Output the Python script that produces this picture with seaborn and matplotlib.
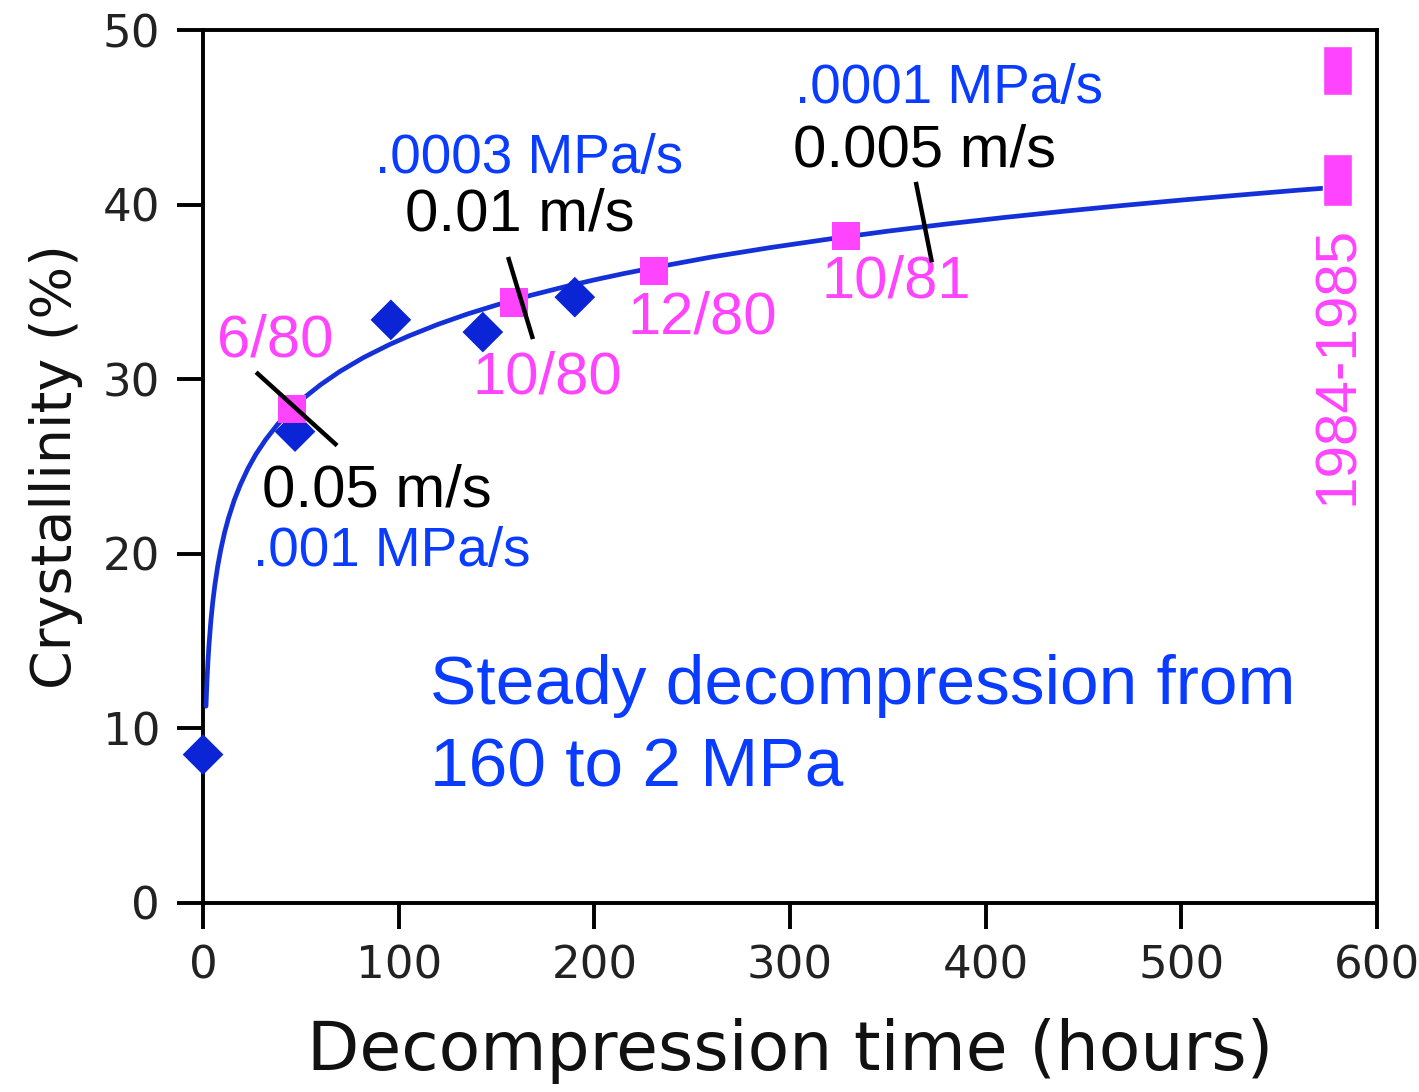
import matplotlib
matplotlib.use("Agg")
import matplotlib.pyplot as plt
import seaborn as sns

# Measured crystallinity, steady decompression runs (diamonds)
run_hours = [0, 47, 96, 143, 190]
run_cryst = [8.5, 27.0, 33.4, 32.7, 34.7]

# Field samples, dated (squares)
sample_hours = [45.5, 159, 230.5, 328.5]
sample_cryst = [28.3, 34.4, 36.2, 38.2]

# 1984-1985 samples shown as value ranges
range_hours = [580, 580]
range_low = [39.9, 46.3]
range_high = [42.9, 49.1]

# Trend curve through the runs
curve_hours = [1.5, 2, 2.5, 3, 4, 5, 6, 7.5, 9, 11, 13, 16, 19, 23, 27, 32,
               38, 45, 52, 60, 70, 82, 95, 105, 120, 135, 150, 167, 185, 200,
               215, 230, 260, 290, 320, 350, 380, 410, 440, 470, 500, 530,
               560, 580]
curve_cryst = [11.27, 12.71, 13.82, 14.73, 16.17, 17.28, 18.19, 19.30, 20.21,
               21.22, 22.05, 23.09, 23.94, 24.90, 25.70, 26.54, 27.40, 28.25,
               28.97, 29.68, 30.45, 31.24, 31.97, 32.47, 33.14, 33.73, 34.25,
               34.79, 35.30, 35.69, 36.05, 36.38, 37.00, 37.54, 38.03, 38.48,
               38.89, 39.27, 39.62, 39.95, 40.26, 40.55, 40.83, 41.00]

BLUE_PT = "#0a24d6"
BLUE_LN = "#1430d8"
BLUE_TX = "#0a3cff"
PINK = "#ff44ff"

sns.set_style("ticks")
plt.rcParams["font.family"] = ["DejaVu Sans"]

fig = plt.figure(figsize=(14.19, 10.92), dpi=100)
ax = fig.add_axes([0.1431, 0.1731, 0.8273, 0.7994])

sns.lineplot(x=curve_hours, y=curve_cryst, ax=ax, color=BLUE_LN,
             linewidth=3.4, sort=False, zorder=3)

ax.bar(range_hours, [h - l for h, l in zip(range_high, range_low)],
       bottom=range_low, width=14.8, color=PINK, zorder=4)

sns.scatterplot(x=run_hours, y=run_cryst, ax=ax, marker="D", s=430,
                color=BLUE_PT, edgecolor="none", zorder=5, clip_on=False)
sns.scatterplot(x=sample_hours, y=sample_cryst, ax=ax, marker="s", s=420,
                color=PINK, edgecolor="none", zorder=6)

# Rate-change marks across the curve
rate_marks = [((27.1, 30.4), (68.5, 26.2)),
              ((155.9, 37.0), (168.6, 32.3)),
              ((364.3, 41.3), (372.5, 36.7))]
for (x0, y0), (x1, y1) in rate_marks:
    ax.plot([x0, x1], [y0, y1], color="black", lw=3.2, zorder=7,
            solid_capstyle="butt")

ann = dict(family="Liberation Sans", ha="left", va="baseline")
ax.text(7.2, 31.3, "6/80", color=PINK, fontsize=43, **ann)
ax.text(137.5, 29.2, "10/80", color=PINK, fontsize=43, **ann)
ax.text(216.7, 32.6, "12/80", color=PINK, fontsize=43, **ann)
ax.text(316.3, 34.7, "10/81", color=PINK, fontsize=43, **ann)

ax.text(30.1, 22.7, "0.05 m/s", color="black", fontsize=43, **ann)
ax.text(25.5, 19.3, ".001 MPa/s", color=BLUE_TX, fontsize=39.5, **ann)
ax.text(87.9, 41.8, ".0003 MPa/s", color=BLUE_TX, fontsize=39.5, **ann)
ax.text(103.2, 38.5, "0.01 m/s", color="black", fontsize=43, **ann)
ax.text(302.5, 45.8, ".0001 MPa/s", color=BLUE_TX, fontsize=39.5, **ann)
ax.text(301.5, 42.2, "0.005 m/s", color="black", fontsize=43, **ann)

ax.text(580, 30.8, "1984-1985", color=PINK, fontsize=42, rotation=90,
        family="Liberation Sans", ha="center", va="center")

ax.text(116, 11.4, "Steady decompression from", color=BLUE_TX, fontsize=50, **ann)
ax.text(116, 6.7, "160 to 2 MPa", color=BLUE_TX, fontsize=50, **ann)

ax.set_xlim(0, 600)
ax.set_ylim(0, 50)
ax.set_xticks(range(0, 601, 100))
ax.set_yticks(range(0, 51, 10))

for side in ["left", "right", "top", "bottom"]:
    ax.spines[side].set_visible(True)
    ax.spines[side].set_linewidth(2.8)
    ax.spines[side].set_color("black")

ax.tick_params(axis="both", direction="out", length=19, width=2.8,
               labelsize=32.5, colors="black", labelcolor="#222222")
ax.tick_params(axis="y", pad=12)
ax.tick_params(axis="x", pad=11)

ax.set_xlabel("Decompression time (hours)", fontsize=49, color="#111111",
              labelpad=22)
ax.set_ylabel("Crystallinity (%)", fontsize=40, color="#111111", labelpad=14)

fig.savefig("out.png", dpi=100, facecolor="white")
